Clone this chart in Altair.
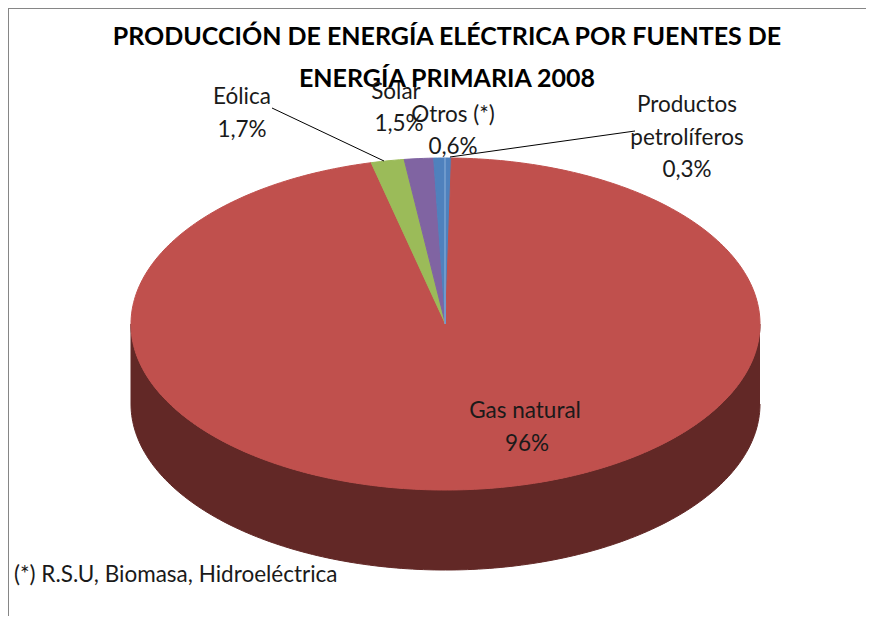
import math
import altair as alt
import pandas as pd

# Data (clockwise from the "Otros" wedge, which ends at twelve o'clock)
names = ["Productos petrolíferos", "Gas natural", "Eólica", "Solar", "Otros (*)"]
shares = [0.3, 96.0, 1.7, 1.5, 0.6]
slice_colors = ["#4F81BD", "#C0504D", "#9BBB59", "#8064A2", "#4F81BD"]
side_color = "#622826"
depth = 0.482

title_lines = ["PRODUCCIÓN DE ENERGÍA ELÉCTRICA POR FUENTES DE", "ENERGÍA PRIMARIA 2008"]
labels = [
    ("Eólica", 242, 97), ("1,7%", 242, 130),
    ("Solar", 396, 92), ("1,5%", 399, 124),
    ("Otros (*)", 453, 115), ("0,6%", 453, 147),
    ("Productos", 687, 105), ("petrolíferos", 687, 138), ("0,3%", 687, 170),
    ("Gas natural", 525, 411), ("96%", 527, 444),
]
note = "(*) R.S.U, Biomasa, Hidroeléctrica"
leaders = [((272, 108), (384, 161)), ((450, 157), (635, 131))]

O = 8  # page margin
W, H = 858, 608
X_SCALE = alt.Scale(domain=[-1, 1], range=[131 - O, 760 - O])
Y_SCALE = alt.Scale(domain=[-1, 1], range=[490 - O, 158 - O])
FONT = "Lato"
INK = "#1a1a1a"

total = sum(shares)


def polygon(color, pts, stroke=None):
    df = pd.DataFrame(pts, columns=["x", "y"])
    df["i"] = range(len(df))
    return (
        alt.Chart(df)
        .mark_line(fill=color, stroke=stroke or color, strokeWidth=1)
        .encode(
            x=alt.X("x:Q", scale=X_SCALE, axis=None),
            y=alt.Y("y:Q", scale=Y_SCALE, axis=None),
            order="i:Q",
        )
    )


def text(s, x, y, size=22.5, bold=False, align="center"):
    return (
        alt.Chart(pd.DataFrame({"t": [s]}))
        .mark_text(font=FONT, fontSize=size, fontWeight="bold" if bold else "normal",
                   align=align, baseline="middle", color=INK if not bold else "#000000")
        .encode(x=alt.value(x - O), y=alt.value(y - O), text="t:N")
    )


def rule(a, b, color="#000000", width=1):
    return (
        alt.Chart(pd.DataFrame({"v": [0]}))
        .mark_rule(color=color, strokeWidth=width)
        .encode(x=alt.value(a[0] - O), y=alt.value(a[1] - O),
                x2=alt.value(b[0] - O), y2=alt.value(b[1] - O))
    )


layers = [rule((8, 8), (8, 624), "#868686", 2), rule((8, 8), (874, 8), "#868686", 2)]

# Side wall: lower half-ellipse and the same arc pushed down by the depth
lower = [(math.cos(math.radians(a)), -math.sin(math.radians(a))) for a in range(0, 181)]
wall = [(x, y - depth) for x, y in lower] + [(x, y) for x, y in reversed(lower)]
layers.append(polygon(side_color, wall))

# Top face
start = 0.0
for name, share, color in zip(names, shares, slice_colors):
    sweep = share / total * 360
    n = max(2, int(sweep) + 1)
    pts = [(0.0, 0.0)]
    for k in range(n + 1):
        a = math.radians(start + sweep * k / n)
        pts.append((math.sin(a), math.cos(a)))
    pts.append((0.0, 0.0))
    layers.append(polygon(color, pts))
    start += sweep

# Pale seam between the two blue wedges
layers.append(rule((445, 158), (445, 324), "#8FB2DC", 1))

for i, line in enumerate(title_lines):
    layers.append(text(line, 447, 37 + 42 * i, size=25, bold=True))
for a, b in leaders:
    layers.append(rule(a, b))
for s, x, y in labels:
    layers.append(text(s, x, y))
layers.append(text(note, 14, 575, align="left"))

chart = (
    alt.layer(*layers)
    .properties(width=W, height=H, padding=0, autosize=alt.AutoSizeParams(type="none"), background="white")
    .configure_view(stroke=None)
)
chart.save("out.html", embed_options={"renderer": "svg", "actions": False})
